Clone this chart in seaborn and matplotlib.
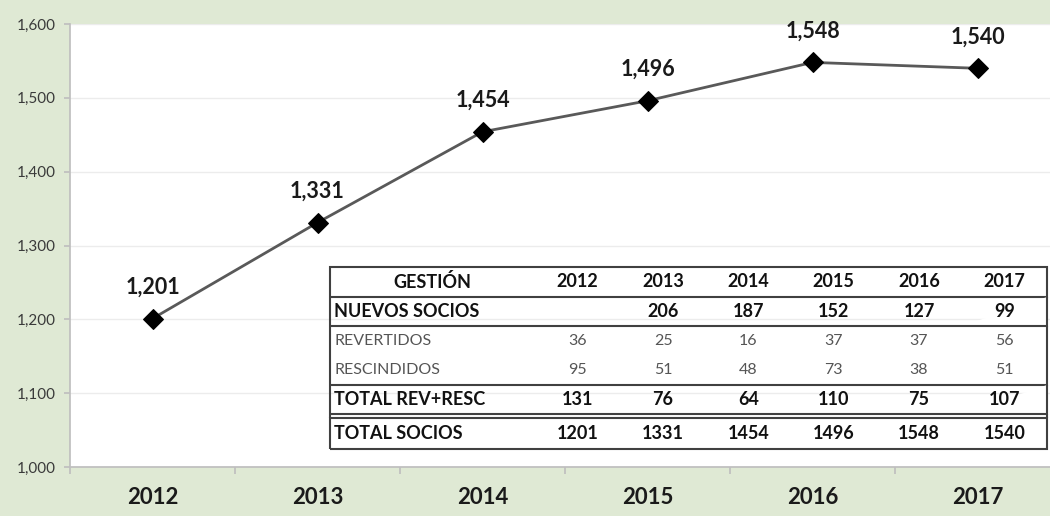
import matplotlib
matplotlib.use('Agg')
import matplotlib.pyplot as plt
import seaborn as sns
import pandas as pd

# datos del grafico
years = ['2012', '2013', '2014', '2015', '2016', '2017']
total_socios = [1201, 1331, 1454, 1496, 1548, 1540]

# datos de la tabla
table_header = ['GESTIÓN', '2012', '2013', '2014', '2015', '2016', '2017']
nuevos_socios = ['', '206', '187', '152', '127', '99']
revertidos = ['36', '25', '16', '37', '37', '56']
rescindidos = ['95', '51', '48', '73', '38', '51']
total_rev_resc = ['131', '76', '64', '110', '75', '107']
row_labels = ['NUEVOS SOCIOS', 'REVERTIDOS', 'RESCINDIDOS', 'TOTAL REV+RESC', 'TOTAL SOCIOS']

sns.set_theme(style='white')
plt.rcParams['font.family'] = ['Lato', 'DejaVu Sans']

bg = '#dfe9d4'
fig = plt.figure(figsize=(10.5, 5.16), dpi=100, facecolor=bg)
ax = fig.add_axes([70 / 1050, 49 / 516, 990 / 1050, 443 / 516])
ax.set_facecolor('white')

df = pd.DataFrame({'year': years, 'socios': total_socios})
sns.lineplot(data=df, x='year', y='socios', ax=ax, color='#595959', linewidth=2,
             marker='D', markersize=10, markerfacecolor='black', markeredgecolor='black',
             sort=False)

for i, v in enumerate(total_socios):
    ax.text(i, v + 28, f'{v:,}', ha='center', va='bottom', fontsize=15.5,
            fontweight='bold', color='#1a1a1a')

ax.set_ylim(1000, 1600)
ax.set_yticks(range(1000, 1601, 100))
ax.set_yticklabels([f'{v:,}' for v in range(1000, 1601, 100)], fontsize=11, color='#3a3a3a')
ax.yaxis.grid(True, color='#ececec', linewidth=1)
ax.set_xlim(-0.5, 5.5)
ax.set_xticks([i - 0.5 for i in range(7)])
ax.set_xticklabels([])
ax.set_xticks(range(6), minor=True)
ax.set_xticklabels(years, minor=True, fontsize=16, fontweight='bold', color='#1a1a1a')
ax.tick_params(axis='x', which='major', length=5, color='#bfbfbf', direction='out', bottom=True)
ax.tick_params(axis='x', which='minor', length=0, pad=22)
ax.tick_params(axis='y', length=4, color='#bfbfbf', left=True, pad=6)
for lbl in ax.get_xticklabels(minor=True):
    lbl.set_verticalalignment('center')
ax.set_xlabel('')
ax.set_ylabel('')
for s in ['top', 'right']:
    ax.spines[s].set_visible(False)
ax.spines['left'].set_color('#bfbfbf')
ax.spines['bottom'].set_color('#bfbfbf')

# fila vacia estrecha para la doble linea
cell_text = [
    table_header,
    [row_labels[0]] + nuevos_socios,
    [row_labels[1]] + revertidos,
    [row_labels[2]] + rescindidos,
    [row_labels[3]] + total_rev_resc,
    [''] * 7,
    [row_labels[4]] + [str(v) for v in total_socios],
]

left = (330 - 70) / 990
right = (1047 - 70) / 990
bottom = (467 - 449) / 443
top = (467 - 267) / 443
tbl = ax.table(cellText=cell_text, bbox=[left, bottom, right - left, top - bottom],
               colWidths=[0.286] + [0.119] * 6, cellLoc='center')
tbl.set_zorder(5)  # encima de la grilla
tbl.auto_set_font_size(False)
heights = [30, 29, 30, 30, 29, 4, 31]
for (r, c), cell in tbl.get_celld().items():
    cell.set_height(heights[r])
    edges = ''
    if r in (0, 6):
        edges += 'T'
    if r in (0, 1, 3, 4, 6):
        edges += 'B'
    if c == 0:
        edges += 'L'
    if c == 6:
        edges += 'R'
    cell.visible_edges = edges
    cell.set_edgecolor('#404040')
    cell.set_linewidth(1.5)
    cell.set_facecolor('white')
    txt = cell.get_text()
    if r in (2, 3):
        txt.set_fontsize(11.5)
        txt.set_color('#555555')
    else:
        txt.set_fontsize(13)
        txt.set_fontweight('bold')
        txt.set_color('#111111')
    if c == 0 and r > 0:
        txt.set_ha('left')
        cell.PAD = 0.02
        cell._loc = 'left'

fig.savefig('out.png', dpi=100, facecolor=bg)
